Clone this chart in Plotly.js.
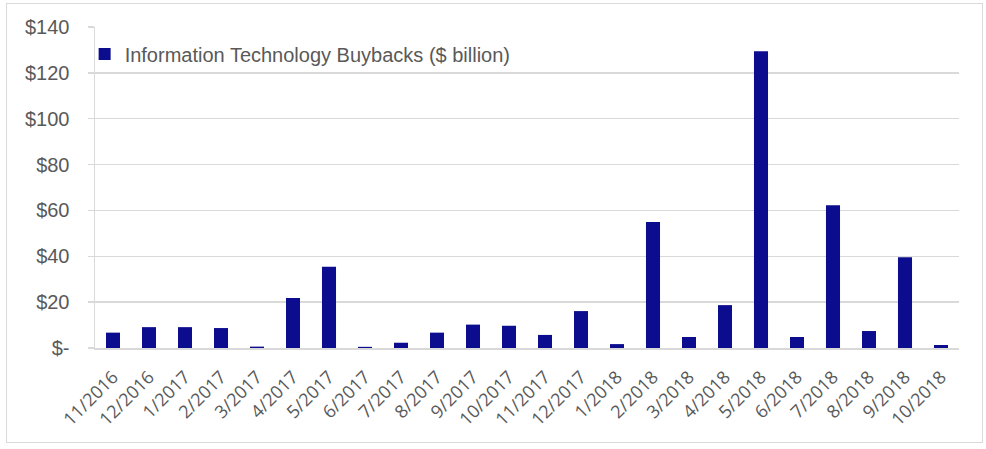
<!DOCTYPE html>
<html>
<head>
<meta charset="utf-8">
<script src="https://cdn.plot.ly/plotly-3.0.1.min.js"></script>
<style>
  html, body { margin: 0; padding: 0; background: #fff; }
  #wrap { position: relative; width: 986px; height: 449px; }
  #chart { width: 986px; height: 449px; }
  #frame { position: absolute; left: 6px; top: 3px; width: 975px; height: 438px;
           border: 1.5px solid #d9d9d9; pointer-events: none; }
</style>
</head>
<body>
<div id="wrap">
  <div id="chart"></div>
  <div id="frame"></div>
</div>
<script>
const months = ["11/2016","12/2016","1/2017","2/2017","3/2017","4/2017","5/2017","6/2017",
                "7/2017","8/2017","9/2017","10/2017","11/2017","12/2017","1/2018","2/2018",
                "3/2018","4/2018","5/2018","6/2018","7/2018","8/2018","9/2018","10/2018"];
const buybacks = [6.7, 9.1, 9.1, 8.7, 0.6, 21.8, 35.4, 0.5,
                  2.3, 6.7, 10.2, 9.7, 5.7, 16.1, 1.7, 54.9,
                  4.8, 18.7, 129.4, 4.8, 62.3, 7.4, 39.6, 1.3];
const seriesName = "Information Technology Buybacks ($ billion)";
const yTickVals = [0, 20, 40, 60, 80, 100, 120, 140];
const yTickText = ["$-", "$20", "$40", "$60", "$80", "$100", "$120", "$140"];

const trace = {
  type: "bar",
  x: months,
  y: buybacks,
  name: seriesName,
  width: 0.39,
  marker: { color: "#0c0c8e", line: { width: 0 } },
  showlegend: true,
  hoverinfo: "x+y"
};

const layout = {
  width: 986,
  height: 449,
  margin: { l: 95, r: 27, t: 27, b: 101 },
  paper_bgcolor: "#ffffff",
  plot_bgcolor: "#ffffff",
  font: { family: "Liberation Sans, Arial, sans-serif", color: "#595959" },
  showlegend: true,
  legend: {
    x: -0.012, y: 0.916, xanchor: "left", yanchor: "middle",
    bgcolor: "rgba(0,0,0,0)",
    font: { family: "Liberation Sans, Arial, sans-serif", size: 20, color: "#595959" }
  },
  xaxis: {
    type: "category",
    tickangle: -45,
    tickfont: { family: "Open Sans, sans-serif", size: 18, color: "#595959" },
    showline: true, linecolor: "#d9d9d9", linewidth: 1.5,
    showgrid: false, ticks: "", zeroline: false,
    ticklabelstandoff: 10
  },
  yaxis: {
    range: [0, 140],
    tickvals: yTickVals,
    ticktext: yTickText,
    tickfont: { family: "Liberation Sans, Arial, sans-serif", size: 20, color: "#595959" },
    showgrid: true, gridcolor: "#d9d9d9", gridwidth: 1.5,
    showline: true, linecolor: "#d9d9d9", linewidth: 1.5,
    ticks: "outside", ticklen: 6, tickcolor: "#d9d9d9", tickwidth: 1.5,
    zeroline: false,
    ticklabelstandoff: 14
  },
  bargap: 0.61
};

Plotly.newPlot("chart", [trace], layout, { displayModeBar: false, staticPlot: true });
</script>
</body>
</html>
